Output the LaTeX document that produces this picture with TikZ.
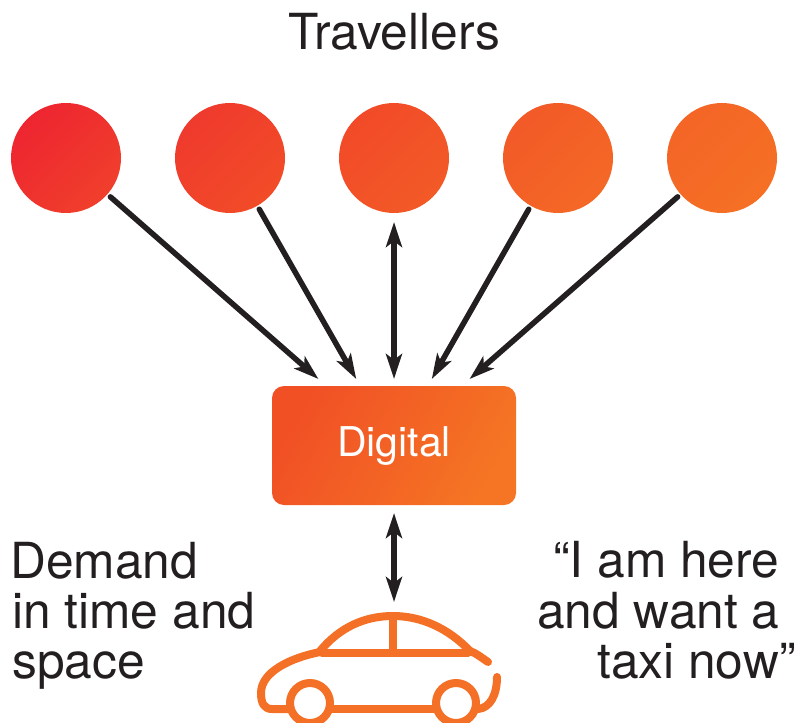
\documentclass[tikz,border=0pt]{standalone}
\usepackage{fontspec}
\setmainfont{TeX Gyre Heros}
\usetikzlibrary{arrows.meta}
\definecolor{txt}{HTML}{231F20}
\definecolor{cA}{HTML}{EE2530}\definecolor{cB}{HTML}{F03F2C}
\definecolor{cC}{HTML}{EF3A2D}\definecolor{cD}{HTML}{F24C28}
\definecolor{cE}{HTML}{F24A28}\definecolor{cF}{HTML}{F25A27}
\definecolor{cG}{HTML}{F25A27}\definecolor{cH}{HTML}{F46826}
\definecolor{cI}{HTML}{F46526}\definecolor{cJ}{HTML}{F57025}
\definecolor{boxA}{HTML}{F15025}\definecolor{boxB}{HTML}{F57524}
\definecolor{carcol}{HTML}{F47026}
\tikzset{
  x=1pt,y=-1pt,
  traveller/.style={circle,minimum size=110pt,inner sep=0pt,outer sep=4pt},
  tipped/.style={},
  lab/.style={anchor=base west,inner sep=0pt,text=txt,font=\fontsize{49.7}{50}\selectfont},
  arr/.style={draw=txt,line width=5.5pt,line cap=round,-{Stealth[length=25pt,width=16pt,inset=6pt]}},
  dbl/.style={draw=txt,line width=5.5pt,{Stealth[length=25pt,width=16pt,inset=6pt]}-{Stealth[length=25pt,width=16pt,inset=6pt]}},
  carline/.style={draw=carcol,line width=8pt,line cap=round,line join=round}
}
\begin{document}
\begin{tikzpicture}
\useasboundingbox (0,0) rectangle (799,722);
\clip (0,0) rectangle (799,722);
\node[traveller,left color=cA,right color=cB,shading angle=45] (c1) at (66,158) {};
\node[traveller,left color=cC,right color=cD,shading angle=45] (c2) at (230,158) {};
\node[traveller,left color=cE,right color=cF,shading angle=45] (c3) at (394,158) {};
\node[traveller,left color=cG,right color=cH,shading angle=45] (c4) at (558,158) {};
\node[traveller,left color=cI,right color=cJ,shading angle=45] (c5) at (722,158) {};
\node[rectangle,rounded corners=12pt,minimum width=244pt,minimum height=119pt,inner sep=0pt,outer ysep=7pt,outer xsep=0pt,left color=boxA,right color=boxB,shading angle=60] (d) at (394,445.5) {};
\node[anchor=base,inner sep=0pt,text=white,font=\fontsize{41}{42}\selectfont] (dl) at (394,456) {Digital};
\node[lab] (t) at (288,50) {Travellers};
\node[lab] (l1) at (10,578) {Demand};
\node[lab] (l2) at (12,628) {in time and};
\node[lab] (l3) at (12,678) {space};
\node[lab] (r1) at (553,577) {“I am here};
\node[lab] (r2) at (537,628) {and want a};
\node[lab] (r3) at (597,678) {taxi now”};
\draw[arr] (c1) -- (d);
\draw[arr] (c2) -- (d);
\draw[dbl,shorten <=5pt] (c3) -- (d);
\draw[arr] (c4) -- (d);
\draw[arr] (c5) -- (d);
\coordinate (car) at (394,602);
\draw[dbl,shorten <=1pt] (d.south) -- (car);
% car
\draw[carline] (320,651) .. controls (340,627) and (365,616) .. (393,616) .. controls (421,616) and (448,628) .. (470,651);
\draw[carline] (322,653) -- (468,653);
\draw[carline] (393,616) -- (393,653);
\draw[carline] (470,651) .. controls (476,653) and (482,658) .. (488,662);
\draw[carline] (320,652) .. controls (290,658) and (261,672) .. (261,693) .. controls (261,703) and (264,709) .. (272,709) -- (288,709);
\draw[carline] (332,709) -- (435,709);
\draw[carline] (478,709) .. controls (490,708) and (497,695) .. (497,677);
\draw[carline] (310,703) circle[radius=20pt];
\draw[carline] (456,703) circle[radius=20pt];
\end{tikzpicture}
\end{document}
